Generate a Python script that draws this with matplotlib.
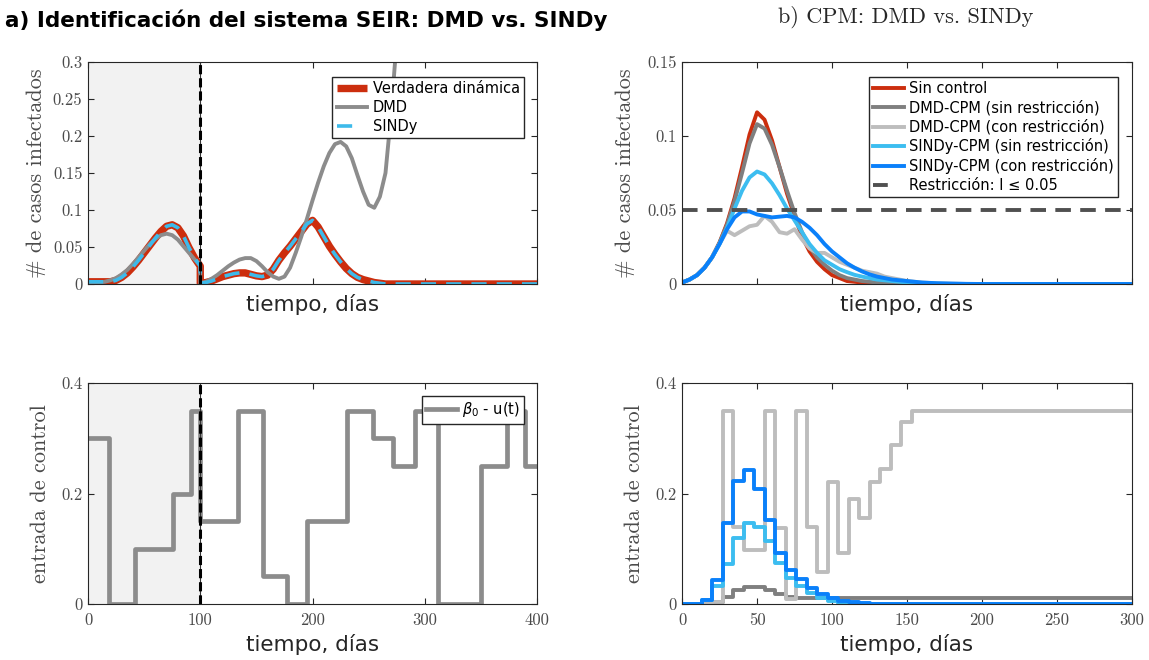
import matplotlib
matplotlib.use('Agg')
import matplotlib.pyplot as plt
from matplotlib.lines import Line2D
import numpy as np

# ---------------- a) identificacion SEIR ----------------
dias_a1 = np.arange(0, 101, 5)
dias_a2 = np.arange(100, 401, 5)
dias_dmd2 = np.arange(100, 276, 5)

real_1 = [0.003, 0.003, 0.003, 0.003, 0.003, 0.005, 0.009, 0.015, 0.023, 0.032, 0.042,
          0.052, 0.062, 0.071, 0.078, 0.080, 0.076, 0.065, 0.049, 0.035, 0.024]
real_2 = [0.001, 0.002, 0.004, 0.007, 0.010, 0.012, 0.014, 0.015, 0.015, 0.013, 0.011,
          0.010, 0.012, 0.020, 0.032, 0.042, 0.051, 0.061, 0.071, 0.081, 0.086, 0.077,
          0.064, 0.051, 0.040, 0.030, 0.021, 0.014, 0.009, 0.006, 0.004, 0.002, 0.001] + [0.0] * 28
dmd_1 = [0.002, 0.002, 0.002, 0.003, 0.005, 0.008, 0.013, 0.019, 0.027, 0.036, 0.045,
         0.054, 0.061, 0.066, 0.068, 0.066, 0.060, 0.051, 0.042, 0.033, 0.025]
dmd_2 = [0.001, 0.003, 0.007, 0.012, 0.018, 0.024, 0.029, 0.033, 0.035, 0.035, 0.031,
         0.024, 0.016, 0.010, 0.007, 0.010, 0.022, 0.042, 0.064, 0.088, 0.113, 0.137,
         0.159, 0.177, 0.189, 0.192, 0.186, 0.170, 0.147, 0.125, 0.107, 0.103, 0.118,
         0.150, 0.230, 0.330]

cambios_a = [0, 19, 42, 76, 92, 100, 134, 156, 177, 195, 231, 254, 272, 291, 312, 350, 373, 389, 400]
u_a = [0.3, 0, 0.1, 0.2, 0.35, 0.15, 0.35, 0.05, 0, 0.15, 0.35, 0.3, 0.25, 0.35, 0, 0.25, 0.35, 0.25]

# ---------------- b) CPM ----------------
dias_b = np.r_[np.arange(0, 150, 5), np.arange(150, 301, 10)]
sin_control = [0.001, 0.003, 0.006, 0.011, 0.018, 0.028, 0.041, 0.058, 0.079, 0.101, 0.116,
               0.111, 0.097, 0.079, 0.061, 0.046, 0.032, 0.022, 0.015, 0.010, 0.006, 0.004,
               0.002, 0.0015, 0.001, 0.0007, 0.0004, 0.0002, 0.0001, 0.0] + [0.0] * 16
dmd_sin = [0.001, 0.003, 0.006, 0.011, 0.018, 0.028, 0.040, 0.056, 0.075, 0.095, 0.108,
           0.105, 0.094, 0.079, 0.063, 0.048, 0.035, 0.025, 0.018, 0.013, 0.009, 0.006,
           0.004, 0.003, 0.002, 0.0015, 0.001, 0.0007, 0.0004, 0.0002, 0.0001] + [0.0] * 15
dmd_con = [0.001, 0.003, 0.006, 0.011, 0.018, 0.027, 0.036, 0.033, 0.036, 0.039, 0.040,
           0.046, 0.042, 0.035, 0.034, 0.037, 0.030, 0.024, 0.021, 0.021, 0.018, 0.015,
           0.013, 0.011, 0.009, 0.008, 0.007, 0.005, 0.004, 0.003,
           0.002, 0.001, 0.0005, 0.0002] + [0.0] * 12
sindy_sin = [0.001, 0.003, 0.006, 0.011, 0.018, 0.027, 0.038, 0.051, 0.063, 0.072, 0.076,
             0.074, 0.068, 0.060, 0.051, 0.043, 0.035, 0.027, 0.021, 0.016, 0.013, 0.010,
             0.008, 0.0062, 0.005, 0.004, 0.003, 0.0025, 0.002, 0.0015,
             0.001, 0.0005, 0.0002] + [0.0] * 13
sindy_con = [0.001, 0.003, 0.006, 0.011, 0.018, 0.027, 0.037, 0.045, 0.049, 0.049, 0.047,
             0.046, 0.045, 0.0455, 0.046, 0.045, 0.042, 0.038, 0.033, 0.027, 0.022, 0.018,
             0.014, 0.011, 0.0085, 0.0065, 0.005, 0.004, 0.003, 0.0025,
             0.002, 0.001, 0.0005, 0.0003, 0.0001] + [0.0] * 11
limite = 0.05

semanas = [0, 13, 20, 27, 34, 41, 48, 55, 62, 69, 76, 83, 90, 97, 104, 111, 118, 125,
           132, 139, 146, 153, 300]
u_dmd_sin = [0, 0, 0.004, 0.012, 0.025, 0.030, 0.030, 0.025, 0.019, 0.013, 0.011, 0.011,
             0.011, 0.011, 0.011, 0.011, 0.011, 0.011, 0.011, 0.011, 0.011, 0.011]
u_dmd_con = [0, 0, 0.004, 0.35, 0.14, 0.098, 0.098, 0.35, 0.137, 0.01, 0.35, 0.14, 0.058,
             0.22, 0.092, 0.19, 0.155, 0.221, 0.245, 0.287, 0.33, 0.35]
u_sindy_sin = [0, 0.007, 0.032, 0.073, 0.119, 0.146, 0.140, 0.114, 0.074, 0.048, 0.033,
               0.020, 0.011, 0.005, 0.002, 0.001, 0, 0, 0, 0, 0, 0]
u_sindy_con = [0, 0.007, 0.043, 0.146, 0.222, 0.242, 0.209, 0.153, 0.092, 0.061, 0.045,
               0.029, 0.019, 0.011, 0.006, 0.003, 0.001, 0, 0, 0, 0, 0]

ROJO = '#CC2E0E'
GRIS = '#8C8C8C'
CIAN = '#3DBAEA'
GRIS_OSC = '#7F7F7F'
GRIS_CLA = '#BDBDBD'
AZUL_CLA = '#3CBDF0'
AZUL = '#0A80FA'
SERIF = 'cmr10'
TXT = '#4a4a4a'


def estilo(ax, xt, yt, ylbl, xlbl=None):
    ax.set_xticks(xt)
    ax.set_yticks(yt)
    ax.set_yticklabels(ylbl, fontfamily=SERIF, fontsize=12, color=TXT)
    if xlbl is None:
        ax.set_xticklabels([])
    else:
        ax.set_xticklabels(xlbl, fontfamily=SERIF, fontsize=12, color=TXT)
    ax.tick_params(direction='in', top=True, right=True, length=4, width=0.8,
                   color='#262626')
    ax.tick_params(axis='x', pad=6)
    ax.tick_params(axis='y', pad=4)
    for s in ax.spines.values():
        s.set_color('#262626')
        s.set_linewidth(0.8)


def leyenda(ax, handles, labels, ancla):
    ax.legend(handles, labels, loc='upper right', bbox_to_anchor=ancla, borderaxespad=0,
              fontsize=10.5, fancybox=False, framealpha=1, edgecolor='#262626',
              handlelength=2.1, labelspacing=0.25, borderpad=0.3, handletextpad=0.35)


fig = plt.figure(figsize=(11.49, 6.6), dpi=100)
ax1 = fig.add_axes([0.0766, 0.5697, 0.3908, 0.3364])
ax2 = fig.add_axes([0.0766, 0.0848, 0.3908, 0.3348])
ax3 = fig.add_axes([0.5936, 0.5697, 0.3916, 0.3364])
ax4 = fig.add_axes([0.5936, 0.0848, 0.3916, 0.3348])

# --- a) arriba
ax1.axvspan(0, 100, color='#F2F2F2', lw=0)
l_real, = ax1.plot(np.r_[dias_a1, dias_a2], real_1 + real_2, color=ROJO, lw=5.3,
                   solid_capstyle='butt')
l_dmd, = ax1.plot(np.r_[dias_a1, dias_dmd2], dmd_1 + dmd_2, color=GRIS, lw=2.8)
ax1.plot(np.r_[dias_a1, dias_a2], real_1 + real_2, color=CIAN, lw=2.6, dashes=(4.2, 2.8))
ax1.axvline(100, color='#333333', lw=0.8)
ax1.axvline(100, color='black', lw=2.2, dashes=(3, 1.3))
ax1.set_xlim(0, 400)
ax1.set_ylim(0, 0.3)
estilo(ax1, [0, 100, 200, 300, 400], [0, 0.05, 0.1, 0.15, 0.2, 0.25, 0.3],
       ['0', '0.05', '0.1', '0.15', '0.2', '0.25', '0.3'])
p_sindy = Line2D([], [], color=CIAN, lw=2.6, dashes=(4.2, 12))
leyenda(ax1, [l_real, l_dmd, p_sindy], ['Verdadera dinámica', 'DMD', 'SINDy'],
        (0.971, 0.932))

# --- a) abajo
ax2.axvspan(0, 100, color='#F2F2F2', lw=0)
l_u, = ax2.step(cambios_a, u_a + [u_a[-1]], where='post', color=GRIS, lw=3.4)
ax2.axvline(100, color='#333333', lw=0.8)
ax2.axvline(100, color='black', lw=2.2, dashes=(3, 1.3))
ax2.set_xlim(0, 400)
ax2.set_ylim(0, 0.4)
estilo(ax2, [0, 100, 200, 300, 400], [0, 0.2, 0.4], ['0', '0.2', '0.4'],
       ['0', '100', '200', '300', '400'])
leyenda(ax2, [l_u], [r'$\beta_0$ - u(t)'], (0.971, 0.941))

# --- b) arriba
h1, = ax3.plot(dias_b, sin_control, color=ROJO, lw=2.8)
h2, = ax3.plot(dias_b, dmd_sin, color=GRIS_OSC, lw=2.8)
h3, = ax3.plot(dias_b, dmd_con, color=GRIS_CLA, lw=2.8)
h4, = ax3.plot(dias_b, sindy_sin, color=AZUL_CLA, lw=2.8)
h5, = ax3.plot(dias_b, sindy_con, color=AZUL, lw=2.8)
ax3.axhline(limite, color='#505050', lw=2.8, dashes=(4.0, 2.4))
ax3.set_xlim(0, 300)
ax3.set_ylim(0, 0.15)
estilo(ax3, [0, 50, 100, 150, 200, 250, 300], [0, 0.05, 0.1, 0.15],
       ['0', '0.05', '0.1', '0.15'])
h6 = Line2D([], [], color='#505050', lw=2.8, dashes=(3.8, 12))
leyenda(ax3, [h1, h2, h3, h4, h5, h6],
        ['Sin control', 'DMD-CPM (sin restricción)', 'DMD-CPM (con restricción)',
         'SINDy-CPM (sin restricción)', 'SINDy-CPM (con restricción)',
         'Restricción: I ≤ 0.05'], (0.969, 0.932))

# --- b) abajo
ax4.step(semanas, u_dmd_sin + [u_dmd_sin[-1]], where='post', color=GRIS_OSC, lw=2.8)
ax4.step(semanas, u_dmd_con + [u_dmd_con[-1]], where='post', color=GRIS_CLA, lw=2.8)
ax4.step(semanas, u_sindy_sin + [u_sindy_sin[-1]], where='post', color=AZUL_CLA, lw=2.8)
ax4.step(semanas, u_sindy_con + [u_sindy_con[-1]], where='post', color=AZUL, lw=2.8)
ax4.set_xlim(0, 300)
ax4.set_ylim(0, 0.4)
estilo(ax4, [0, 50, 100, 150, 200, 250, 300], [0, 0.2, 0.4], ['0', '0.2', '0.4'],
       ['0', '50', '100', '150', '200', '250', '300'])

for ax in (ax1, ax2, ax3, ax4):
    ax.set_xlabel('tiempo, días', fontsize=15.5, color='#262626')
for ax in (ax1, ax3):
    ax.set_ylabel('# de casos infectados', fontfamily=SERIF, fontsize=16, color=TXT)
for ax in (ax2, ax4):
    ax.set_ylabel('entrada de control', fontfamily=SERIF, fontsize=16, color=TXT)

ax1.xaxis.set_label_coords(0.5, -0.045)
ax3.xaxis.set_label_coords(0.5, -0.045)
ax2.xaxis.set_label_coords(0.5, -0.136)
ax4.xaxis.set_label_coords(0.5, -0.136)
ax1.yaxis.set_label_coords(-0.094, 0.5)
ax2.yaxis.set_label_coords(-0.085, 0.5)
ax3.yaxis.set_label_coords(-0.104, 0.5)
ax4.yaxis.set_label_coords(-0.084, 0.5)

fig.text(0.004, 0.970, 'a) Identificación del sistema SEIR: DMD vs. SINDy',
         fontsize=15.5, fontweight='bold', va='center', ha='left')
fig.text(0.788, 0.974, 'b) CPM: DMD vs. SINDy', fontfamily=SERIF, fontsize=16,
         va='center', ha='center', color='#262626')

fig.savefig('out.png', dpi=100)
